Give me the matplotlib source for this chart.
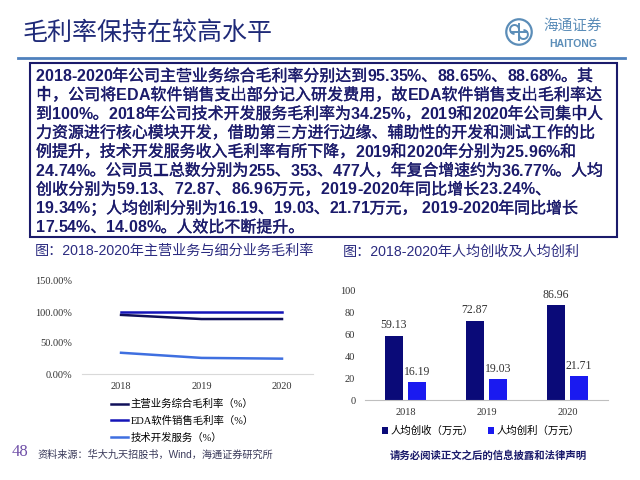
import matplotlib
matplotlib.use('Agg')
import matplotlib.pyplot as plt
from matplotlib.lines import Line2D
from matplotlib.patches import Rectangle, Circle, Arc
from matplotlib.font_manager import FontProperties, findfont, get_font
import matplotlib.patheffects as pe
import numpy as np

# ---------------- data ----------------
years = ['2018', '2019', '2020']
main_margin = [95.35, 88.65, 88.68]
eda_margin = [100.0, 100.0, 100.0]
tech_margin = [34.25, 25.96, 24.74]
margin_labels = ['主营业务综合毛利率（%）', 'EDA软件销售毛利率（%）', '技术开发服务（%）']
margin_ticks = [0, 50, 100, 150]
rev_per_cap = [59.13, 72.87, 86.96]
profit_per_cap = [16.19, 19.03, 21.71]
bar_labels = ['人均创收（万元）', '人均创利（万元）']
bar_ticks = [0, 20, 40, 60, 80, 100]

title = '毛利率保持在较高水平'
body_lines = [
    '2018-2020年公司主营业务综合毛利率分别达到95.35%、88.65%、88.68%。其',
    '中，公司将EDA软件销售支出部分记入研发费用，故EDA软件销售支出毛利率达',
    '到100%。2018年公司技术开发服务毛利率为34.25%，2019和2020年公司集中人',
    '力资源进行核心模块开发，借助第三方进行边缘、辅助性的开发和测试工作的比',
    '例提升，技术开发服务收入毛利率有所下降，2019和2020年分别为25.96%和',
    '24.74%。公司员工总数分别为255、353、477人，年复合增速约为36.77%。人均',
    '创收分别为59.13、72.87、86.96万元，2019-2020年同比增长23.24%、',
    '19.34%；人均创利分别为16.19、19.03、21.71万元， 2019-2020年同比增长',
    '17.54%、14.08%。人效比不断提升。',
]
cap1 = '图：2018-2020年主营业务与细分业务毛利率'
cap2 = '图：2018-2020年人均创收及人均创利'
source = '资料来源：华大九天招股书，Wind，海通证券研究所'
disclaimer = '请务必阅读正文之后的信息披露和法律声明'

# ---------------- helpers ----------------
W, H = 640, 480
DPI = 100
def fx(x): return x / W
def fy(y): return 1 - y / H

CJK = ['Noto Sans CJK SC']
MIX = ['Liberation Sans', 'Noto Sans CJK SC']
SER = ['Liberation Serif', 'Noto Sans CJK SC']
NAVY = '#1B1B6B'

fig = plt.figure(figsize=(6.4, 4.8), dpi=DPI)
fig.patch.set_facecolor('white')

# ---------------- header ----------------
fig.text(fx(22), fy(33), title, family=CJK, fontsize=18, color='#1F2A78',
         va='center', ha='left')
fig.add_artist(Line2D([fx(18), fx(625)], [fy(58), fy(58)], color='#4F81BD', lw=2))

# logo
axl = fig.add_axes([fx(505), fy(46), 28 / W, 28 / H])
axl.set_xlim(-1.1, 1.1); axl.set_ylim(-1.1, 1.1); axl.set_aspect('equal'); axl.axis('off')
lc = '#5B8DB8'
axl.add_patch(Circle((0, 0), 1.0, fill=False, ec=lc, lw=1.6))
axl.add_patch(Arc((-0.35, 0.2), 0.7, 0.7, theta1=0, theta2=270, ec=lc, lw=1.4))
axl.add_patch(Arc((0.35, -0.2), 0.7, 0.7, theta1=180, theta2=450, ec=lc, lw=1.4))
axl.plot([-0.6, 0.6], [0, 0], color=lc, lw=1.4)
axl.plot([0, 0], [-0.6, 0.6], color=lc, lw=1.4)
fig.text(fx(573), fy(26), '海通证券', family=CJK, fontsize=10.5, color=lc,
         va='center', ha='center', style='italic')
fig.text(fx(573), fy(44), 'HAITONG', family=['Liberation Sans'], fontsize=7.5,
         weight='bold', color=lc, va='center', ha='center')

# ---------------- text box ----------------
fig.add_artist(Rectangle((fx(30), fy(237)), fx(617) - fx(30), fy(63) - fy(237),
                         fill=False, edgecolor=NAVY, lw=1.5))

PT = 11.5
lat_font = get_font(findfont(FontProperties(family='Liberation Sans', weight='bold')))
lat_font.set_size(PT, DPI)
cjk_adv = PT * DPI / 72.0
# right edge (pixels) each line reaches in the slide (None = natural width)
line_ends = [593, 602, 603, 595, 576, 603, 551, 578, None]
cjk_fx = [pe.withStroke(linewidth=0.25, foreground=NAVY)]


def adv(ch):
    if ch.isascii():
        return lat_font.load_char(ord(ch)).linearHoriAdvance / 65536.0
    return cjk_adv


def draw_line(s, x0, ybase, xend):
    advs = [adv(c) for c in s]
    natural = sum(advs)
    extra = 0.0
    if xend is not None and len(s) > 1:
        extra = (xend - x0 - natural) / (len(s) - 1)
    xcur = x0
    for ch, a in zip(s, advs):
        if ch.isascii():
            if ch != ' ':
                fig.text(fx(xcur), fy(ybase), ch, family=['Liberation Sans'],
                         fontsize=PT, weight='bold', color=NAVY,
                         va='baseline', ha='left')
        else:
            fig.text(fx(xcur), fy(ybase), ch, family=CJK, fontsize=PT,
                     weight='medium', color=NAVY, va='baseline', ha='left',
                     path_effects=cjk_fx)
        xcur += a + extra


for i, s in enumerate(body_lines):
    draw_line(s, 36, 81 + i * 18.9, line_ends[i])

# ---------------- captions ----------------
fig.text(fx(35), fy(251), cap1, family=MIX, fontsize=10.2, color='#2B2B80', va='center')
fig.text(fx(343), fy(252), cap2, family=MIX, fontsize=10.2, color='#2B2B80', va='center')

# ---------------- left chart ----------------
x = np.arange(len(years))
ax1 = fig.add_axes([fx(82), fy(374), fx(313) - fx(82), fy(281) - fy(374)])
l1, = ax1.plot(x, main_margin, color='#10105A', lw=1.8)
l2, = ax1.plot(x, eda_margin, color='#1414B8', lw=1.8)
l3, = ax1.plot(x, tech_margin, color='#3F6FE0', lw=1.8)
ax1.set_xlim(-0.485, 2.385)
ax1.set_ylim(0, 150)
ax1.set_xticks(x, years)
ax1.set_yticks(margin_ticks, [f'{v:.2f}%' for v in margin_ticks])
for sp in ['top', 'right', 'left']:
    ax1.spines[sp].set_visible(False)
ax1.spines['bottom'].set_color('#D9D9D9')
ax1.tick_params(length=0, labelsize=7.5, colors='#333333')
ax1.tick_params(axis='y', pad=7)
ax1.tick_params(axis='x', pad=6)
for t in ax1.get_xticklabels() + ax1.get_yticklabels():
    t.set_family(SER)
fig.legend([l1, l2, l3], margin_labels, loc='upper left',
           bbox_to_anchor=(fx(111), fy(399)), frameon=False, borderpad=0,
           borderaxespad=0, handlelength=1.6, handletextpad=0.3,
           labelspacing=0.62, prop=FontProperties(family=SER, size=7.5))

# ---------------- right chart ----------------
ax2 = fig.add_axes([fx(365), fy(400), fx(608) - fx(365), fy(291) - fy(400)])
off, w = 0.142, 0.222
b1 = ax2.bar(x - off, rev_per_cap, width=w, color='#0A0A78')
b2 = ax2.bar(x + off, profit_per_cap, width=w, color='#1A1AF0')
for b in (b1, b2):
    labs = ax2.bar_label(b, fmt='%.2f', padding=3, fontsize=8.5, color='#333333')
    for t in labs:
        t.set_family(SER)
ax2.set_xlim(-0.5, 2.5)
ax2.set_ylim(0, 100)
ax2.set_xticks(x, years)
ax2.set_yticks(bar_ticks, [str(v) for v in bar_ticks])
for sp in ['top', 'right', 'left']:
    ax2.spines[sp].set_visible(False)
ax2.spines['bottom'].set_color('#BFBFBF')
ax2.tick_params(length=0, labelsize=7.5, colors='#333333')
ax2.tick_params(axis='y', pad=7)
ax2.tick_params(axis='x', pad=6)
for t in ax2.get_xticklabels() + ax2.get_yticklabels():
    t.set_family(SER)
fig.legend([b1, b2], bar_labels, loc='upper left', ncol=2,
           bbox_to_anchor=(fx(382), fy(426)), frameon=False, borderpad=0,
           borderaxespad=0, handlelength=0.6, handleheight=0.6,
           handletextpad=0.2, columnspacing=1.4,
           prop=FontProperties(family=SER, size=7.5))

# ---------------- footer ----------------
fig.text(fx(12), fy(452), '48', family=['Liberation Serif'], fontsize=12,
         color='#7050A8', va='center')
fig.text(fx(37), fy(455), source, family=MIX, fontsize=7.3, color='#3A3A5A', va='center')
fig.text(fx(390), fy(455), disclaimer, family=CJK, fontsize=7.5, weight='bold',
         color=NAVY, va='center')

fig.savefig('out.png', dpi=DPI, facecolor='white')
